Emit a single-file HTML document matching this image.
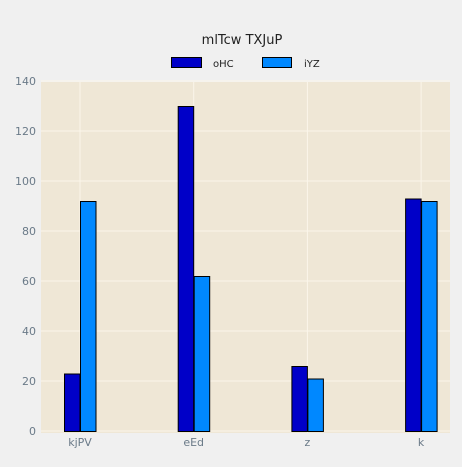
<!DOCTYPE html>
<html><head><meta charset="utf-8"><style>
body{margin:0;background:#f0f0f0;width:462px;height:462px;overflow:hidden}
text{font-family:"DejaVu Sans","Liberation Sans",sans-serif}
</style></head><body>
<svg id="c" width="462" height="462">
<rect width="462" height="462" fill="#f0f0f0"/>
<text x="242" y="44" text-anchor="middle" font-size="13" fill="#222">mlTcw TXJuP</text>
<g>
<g><rect x="171.5" y="57.5" width="30" height="10" fill="#0000c8" stroke="#000"/><text x="213" y="67" font-size="10" fill="#222">oHC</text></g>
<g><rect x="262.5" y="57.5" width="29" height="10" fill="#0088ff" stroke="#000"/><text x="304" y="67" font-size="10" fill="#222">iYZ</text></g>
</g>
<rect x="41" y="82" width="409" height="351" fill="#efe7d6"/>
<g id="grid"></g><g id="bars"></g><g id="axes"></g>
</svg>
<script>
const categories=["kjPV","eEd","z","k"];
const seriesNames=["oHC","iYZ"];
const ohc=[23,130,26,93];
const iyz=[92,62,21,92];
const yTicks=[0,20,40,60,80,100,120,140];
const colors=["#0000c8","#0088ff"];
const NS="http://www.w3.org/2000/svg";
const y=v=>431-v*2.5;
const x=i=>80+i*113.7;
function mk(tag,attrs,parent,txt){const e=document.createElementNS(NS,tag);for(const k in attrs)e.setAttribute(k,attrs[k]);if(txt!==undefined)e.textContent=txt;document.getElementById(parent).appendChild(e);return e;}
yTicks.forEach(t=>{
  const l=mk('line',{x1:41,x2:450,y1:y(t),y2:y(t),stroke:'#fbf6ea','stroke-width':1},'grid');
  
  
  const tx=mk('text',{x:36,y:y(t)+4,'text-anchor':'end','font-size':11,fill:'#6a7a88'},'axes',t);
  
  
});
categories.forEach((c,i)=>{
  const l=mk('line',{x1:x(i),x2:x(i),y1:82,y2:433,stroke:'#fbf6ea','stroke-width':1},'grid');
  
  
  const tx=mk('text',{x:x(i),y:446,'text-anchor':'middle','font-size':11,fill:'#6a7a88'},'axes',c);
  
  
});
[ohc,iyz].forEach((s,k)=>{
  s.forEach((v,i)=>{
    const bx=x(i)-16+k*16;
    const r=mk('rect',{x:bx+0.5,y:y(v)+0.5,width:15.5,height:v*2.5,fill:colors[k],stroke:'#000','stroke-width':1},'bars');
    
    
  });
});
</script>
</body></html>
